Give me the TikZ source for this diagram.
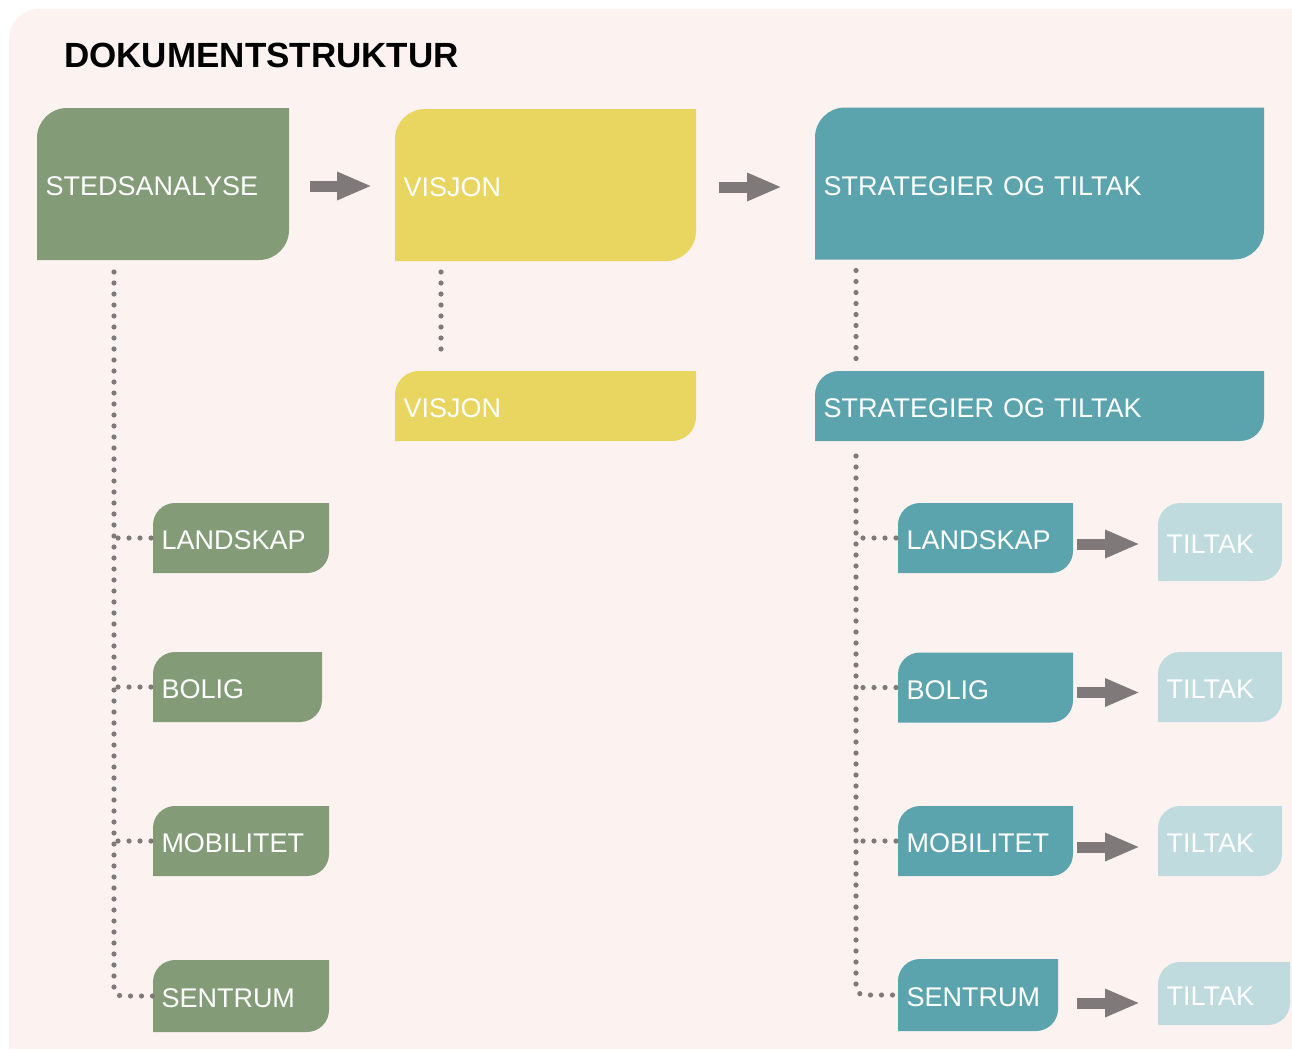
\documentclass[tikz,border=0pt]{standalone}
\usepackage{fontspec}
\setmainfont{Liberation Sans}
\usepackage{xcolor}
\usepackage{tikz}
\usetikzlibrary{arrows.meta, backgrounds}

\definecolor{bakgrunn}{RGB}{252,243,241}
\definecolor{groenn}{RGB}{131,155,119}
\definecolor{gul}{RGB}{232,214,96}
\definecolor{turkis}{RGB}{91,164,173}
\definecolor{lysturkis}{RGB}{192,219,222}
\definecolor{pilgraa}{RGB}{127,122,121}

% fill a box with rounded top left and bottom right corners
\newcommand{\formblokk}[3]{%
  \fill[#2] (#1.west) [rounded corners=#3] -- (#1.north west) -- (#1.north)
    [sharp corners] -- (#1.north east) -- (#1.east)
    [rounded corners=#3] -- (#1.south east) -- (#1.south)
    [sharp corners] -- (#1.south west) -- cycle;}

\begin{document}
\begin{tikzpicture}[x=1pt, y=-1pt,
    boks/.style={inner xsep=8.5pt, inner ysep=0pt, outer sep=0pt, align=left, text=white, text height=23pt, text depth=0pt, font=\fontsize{27}{30}\selectfont},
    stor/.style={boks, minimum height=152pt},
    liten/.style={boks, minimum height=70pt},
    tittel/.style={inner sep=0pt, font=\bfseries\fontsize{35}{40}\selectfont},
    pil/.style={draw=pilgraa, line width=11pt, -{Triangle[length=35pt, width=26pt]}},
    prikk/.style={draw=pilgraa, line width=5.2pt, line cap=round, dash pattern=on 0pt off 11pt},
]
\useasboundingbox (0,0) rectangle (1292,1049);

% Title
\node[tittel, anchor=base west] (tittel) at (64,67) {DOKUMENTSTRUKTUR};

% Main row
\node[stor, text width=235pt] (sted) at (163,184) {STEDSANALYSE};
\node[stor, text width=284pt] (visjon) at (545.5,185) {VISJON};
\node[stor, text width=432pt] (strat) at (1039.5,183.5) {STRATEGIER OG TILTAK};

% Second row
\node[liten, text width=284pt] (visjon2) at (545.5,406) {VISJON};
\node[liten, text width=432pt] (strat2) at (1039.5,406) {STRATEGIER OG TILTAK};

% Analysis themes
\node[liten, text width=159pt] (land) at (241,538) {LANDSKAP};
\node[liten, text width=152pt] (bolig) at (237.5,687) {BOLIG};
\node[liten, text width=159pt] (mobil) at (241,841) {MOBILITET};
\node[liten, text width=159pt, minimum height=72pt] (sentrum) at (241,996) {SENTRUM};

% Strategy themes
\node[liten, text width=158pt] (land2) at (985.5,538) {LANDSKAP};
\node[liten, text width=158pt] (bolig2) at (985.5,687.5) {BOLIG};
\node[liten, text width=158pt] (mobil2) at (985.5,841) {MOBILITET};
\node[liten, text width=143pt, minimum height=72pt] (sentrum2) at (978,995) {SENTRUM};

% Measures
\node[liten, text width=107pt, minimum height=78pt] (tiltak1) at (1220,542) {TILTAK};
\node[liten, text width=107pt] (tiltak2) at (1220,687) {TILTAK};
\node[liten, text width=107pt] (tiltak3) at (1220,841) {TILTAK};
\node[liten, text width=115pt, minimum height=63pt] (tiltak4) at (1224,993.5) {TILTAK};

% Box shapes and page background
\begin{scope}[on background layer]
\fill[bakgrunn] (9,1049) -- (9,39) arc[start angle=180, end angle=270, radius=30] -- (1292,9) -- (1292,1049) -- cycle;
\foreach \n/\f/\r in {sted/groenn/30pt, visjon/gul/30pt, strat/turkis/30pt,
    visjon2/gul/24pt, strat2/turkis/24pt,
    land/groenn/22pt, bolig/groenn/22pt, mobil/groenn/22pt, sentrum/groenn/22pt,
    land2/turkis/22pt, bolig2/turkis/22pt, mobil2/turkis/22pt, sentrum2/turkis/22pt,
    tiltak1/lysturkis/22pt, tiltak2/lysturkis/22pt, tiltak3/lysturkis/22pt, tiltak4/lysturkis/22pt}
  \formblokk{\n}{\f}{\r};
\end{scope}

% Arrows
\draw[pil, shorten <=21pt, shorten >=23pt] ([yshift=-2pt]sted.east) -- ([yshift=-2pt]sted.east -| visjon.west);
\draw[pil, shorten <=23pt, shorten >=33pt] ([yshift=-2pt]visjon.east) -- ([yshift=-2pt]visjon.east -| strat.west);
\draw[pil, shorten <=4pt, shorten >=18pt] ([yshift=-6pt]land2.east) -- ([yshift=-6pt]land2.east -| tiltak1.west);
\draw[pil, shorten <=4pt, shorten >=18pt] ([yshift=-5pt]bolig2.east) -- ([yshift=-5pt]bolig2.east -| tiltak2.west);
\draw[pil, shorten <=4pt, shorten >=18pt] ([yshift=-6pt]mobil2.east) -- ([yshift=-6pt]mobil2.east -| tiltak3.west);
\draw[pil, shorten <=19pt, shorten >=18pt] ([yshift=-8pt]sentrum2.east) -- ([yshift=-8pt]sentrum2.east -| tiltak4.west);

% Dotted links
\draw[prikk, shorten <=11pt, shorten >=12pt] ([xshift=46pt]visjon.south west) -- ([xshift=46pt]visjon2.north west);
\draw[prikk, shorten <=11pt, shorten >=12pt] ([xshift=41pt]strat.south west) -- ([xshift=41pt]strat2.north west);

\coordinate (vstamme) at (114,272);
\coordinate (hstamme) at (856,456);
\draw[prikk, rounded corners=8pt] (vstamme) |- (sentrum.west);
\draw[prikk, rounded corners=8pt] (hstamme) |- (sentrum2.west);
\foreach \n in {land, bolig, mobil} {
  \draw[prikk, shorten <=2pt] (\n.west) -- (vstamme |- \n.west);
  \draw[prikk, shorten <=2pt] (\n2.west) -- (hstamme |- \n2.west);
}

\end{tikzpicture}
\end{document}
